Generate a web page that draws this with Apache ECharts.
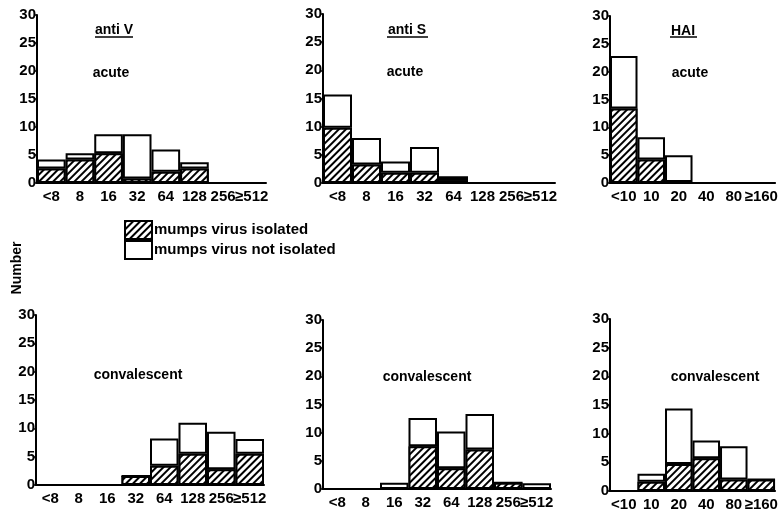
<!DOCTYPE html>
<html><head><meta charset="utf-8">
<script src="https://cdn.jsdelivr.net/npm/echarts@6/dist/echarts.min.js"></script>
<style>html,body{margin:0;padding:0;background:#fff}#c{width:780px;height:512px}</style>
</head><body><div id="c"></div>
<script>
var titreCats = ['<8', '8', '16', '32', '64', '128', '256', '≥512'];
var haiCats = ['<10', '10', '20', '40', '80', '≥160'];
var yTicks = [0, 5, 10, 15, 20, 25, 30];

var antiVAcuteTotal = [4.2, 5.3, 8.7, 8.7, 6.0, 3.7, 0, 0];
var antiVAcuteIso   = [2.6, 4.2, 5.3, 0.8, 2.0, 2.6, 0, 0];
var antiSAcuteTotal = [15.7, 8.0, 3.8, 6.4, 1.2, 0, 0, 0];
var antiSAcuteIso   = [9.8, 3.3, 1.8, 1.8, 0.5, 0, 0, 0];
var haiAcuteTotal   = [22.8, 8.2, 5.0, 0, 0, 0];
var haiAcuteIso     = [13.4, 4.2, 0.2, 0, 0, 0];
var antiVConvTotal  = [0, 0, 0, 1.6, 8.2, 11.0, 9.4, 8.1];
var antiVConvIso    = [0, 0, 0, 1.6, 3.4, 5.5, 2.8, 5.5];
var antiSConvTotal  = [0, 0, 1.1, 12.6, 10.2, 13.3, 1.1, 1.0];
var antiSConvIso    = [0, 0, 0, 7.6, 3.7, 7.0, 1.1, 0];
var haiConvTotal    = [0, 3.0, 14.4, 8.8, 7.8, 2.0];
var haiConvIso      = [0, 1.6, 4.7, 5.7, 2.0, 2.0];

var panels = [
  {cats: titreCats, total: antiVAcuteTotal, iso: antiVAcuteIso, grid: {left: 37, top: 15, width: 229, height: 168}},
  {cats: titreCats, total: antiSAcuteTotal, iso: antiSAcuteIso, grid: {left: 323, top: 14, width: 232, height: 169}},
  {cats: haiCats,   total: haiAcuteTotal,   iso: haiAcuteIso,   grid: {left: 610, top: 16, width: 176, height: 167}},
  {cats: titreCats, total: antiVConvTotal,  iso: antiVConvIso,  grid: {left: 36, top: 315, width: 228, height: 170}},
  {cats: titreCats, total: antiSConvTotal,  iso: antiSConvIso,  grid: {left: 323, top: 320, width: 228, height: 169}},
  {cats: haiCats,   total: haiConvTotal,    iso: haiConvIso,    grid: {left: 610, top: 319, width: 176, height: 172}}
];

var FONT = 'Liberation Sans, Arial, sans-serif';
var hatch = {
  symbol: 'rect', symbolSize: 1,
  dashArrayX: [1, 0], dashArrayY: [1.5, 2.8],
  rotation: -Math.PI / 4,
  color: '#000', backgroundColor: '#fff'
};

var grids = [], xAxes = [], yAxes = [], series = [];
panels.forEach(function (p, i) {
  grids.push(Object.assign({containLabel: false}, p.grid));
  xAxes.push({
    type: 'category', gridIndex: i, data: p.cats,
    axisLine: {lineStyle: {color: '#000', width: 2}},
    axisTick: {inside: true, length: 3, lineStyle: {color: '#000', width: 1.5}},
    axisLabel: {interval: 0, color: '#000', fontWeight: 'bold', fontSize: 15, fontFamily: FONT, margin: 6},
    splitLine: {show: false}
  });
  yAxes.push({
    type: 'value', gridIndex: i, min: yTicks[0], max: yTicks[yTicks.length - 1], interval: yTicks[1] - yTicks[0],
    axisLine: {show: true, lineStyle: {color: '#000', width: 2}},
    axisTick: {show: true, length: 2, lineStyle: {color: '#000', width: 1.5}},
    axisLabel: {color: '#000', fontWeight: 'bold', fontSize: 15, fontFamily: FONT, margin: 1},
    splitLine: {show: false}
  });
  series.push({
    name: 'mumps virus isolated', type: 'bar', stack: 's' + i, xAxisIndex: i, yAxisIndex: i,
    data: p.iso, barCategoryGap: 0, animation: false,
    itemStyle: {color: '#fff', decal: hatch, borderColor: '#000', borderWidth: 2}
  });
  series.push({
    name: 'mumps virus not isolated', type: 'bar', stack: 's' + i, xAxisIndex: i, yAxisIndex: i,
    data: p.total.map(function (t, k) { return +(t - p.iso[k]).toFixed(2); }),
    barCategoryGap: 0, animation: false,
    itemStyle: {color: '#fff', borderColor: '#000', borderWidth: 2}
  });
});

function txt(x, y, s, size) {
  return {type: 'text', x: x, y: y, style: {text: s, fill: '#000', font: 'bold ' + (size || 14) + 'px ' + FONT, textAlign: 'center', textVerticalAlign: 'middle'}};
}
function uline(x1, x2, y) {
  return {type: 'line', shape: {x1: x1, y1: y, x2: x2, y2: y}, style: {stroke: '#000', lineWidth: 1.5}};
}

var chart = echarts.init(document.getElementById('c'), null, {renderer: 'canvas'});
chart.setOption({
  backgroundColor: '#fff',
  animation: false,
  aria: {decal: {show: false}},
  grid: grids, xAxis: xAxes, yAxis: yAxes, series: series,
  legend: {
    orient: 'vertical', left: 124, top: 220, itemWidth: 27, itemHeight: 18, itemGap: 0,
    icon: 'rect', padding: 0,
    textStyle: {color: '#000', fontWeight: 'bold', fontSize: 15, fontFamily: FONT, padding: [0, 0, 0, -3]},
    data: ['mumps virus isolated', 'mumps virus not isolated']
  },
  graphic: [
    txt(114, 30, 'anti V'), uline(95, 133, 37),
    txt(111, 73, 'acute'),
    txt(407, 30, 'anti S'), uline(387, 428, 37),
    txt(405, 72, 'acute'),
    txt(683, 31, 'HAI'), uline(670, 697, 37),
    txt(690, 73, 'acute'),
    txt(138, 375, 'convalescent'),
    txt(427, 377, 'convalescent'),
    txt(715, 377, 'convalescent'),
    {type: 'text', x: 17, y: 268, rotation: Math.PI / 2,
     style: {text: 'Number', fill: '#000', font: 'bold 14px ' + FONT, textAlign: 'center', textVerticalAlign: 'middle'}}
  ]
});
</script></body></html>
